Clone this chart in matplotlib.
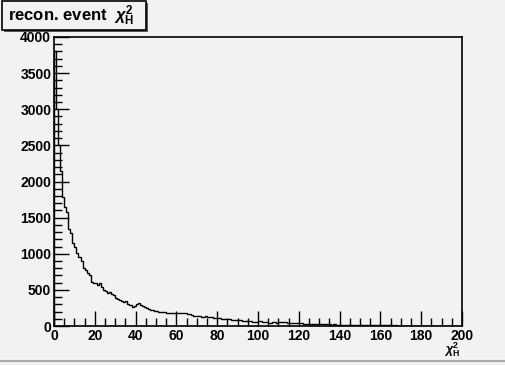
import numpy as np
import matplotlib.pyplot as plt
from matplotlib.patches import Rectangle
from matplotlib.ticker import MultipleLocator

# chi2_H histogram, 1 unit bins from 0 to 200
bin_edges = np.arange(0, 201, 1)
counts = [
    3800, 3000, 2500, 2150, 1780, 1650, 1580, 1340, 1290, 1150,
    1090, 1010, 955, 900, 800, 775, 730, 700, 610, 600,
    595, 567, 590, 540, 500, 490, 457, 465, 440, 430,
    385, 370, 360, 345, 336, 350, 310, 290, 267, 280,
    300, 318, 290, 275, 267, 250, 240, 221, 225, 210,
    205, 200, 198, 190, 195, 185, 180, 183, 175, 180,
    185, 178, 182, 175, 180, 170, 160, 150, 145, 140,
    138, 142, 130, 128, 135, 125, 120, 118, 112, 110,
    108, 110, 100, 98, 95, 92, 90, 86, 85, 83,
    80, 78, 75, 72, 70, 68, 65, 62, 60, 58,
    73, 65, 55, 58, 50, 48, 46, 50, 55, 48,
    62, 60, 52, 55, 45, 42, 40, 38, 40, 36,
    37, 35, 32, 30, 30, 29, 28, 30, 26, 25,
    27, 24, 25, 26, 25, 22, 20, 22, 19, 18,
    20, 17, 16, 18, 15, 14, 16, 15, 14, 14,
    13, 12, 14, 11, 12, 10, 11, 9, 10, 9,
    8, 9, 8, 7, 8, 7, 6, 7, 6, 5,
    6, 5, 5, 4, 5, 4, 4, 3, 4, 3,
    3, 3, 2, 3, 2, 2, 3, 2, 2, 1,
    2, 1, 2, 1, 1, 1, 1, 1, 1, 1,
]
title = "recon. event  $\\chi^{2}_{\\mathbf{H}}$"
xlabel = "$\\chi^{2}_{\\mathbf{H}}$"

BG = "#f2f2f2"
plt.rcParams["font.family"] = ["Liberation Sans", "DejaVu Sans"]
plt.rcParams["mathtext.fontset"] = "custom"
plt.rcParams["mathtext.rm"] = "Liberation Sans:bold"
plt.rcParams["mathtext.it"] = "Liberation Sans:italic:bold"
plt.rcParams["mathtext.bf"] = "Liberation Sans:bold"

fig = plt.figure(figsize=(5.05, 3.65), dpi=100, facecolor=BG)
ax = fig.add_axes([54 / 505, 39 / 365, 408 / 505, 289 / 365])
ax.set_facecolor(BG)

ax.stairs(counts, bin_edges, color="black", linewidth=1.0)

ax.set_xlim(0, 200)
ax.set_ylim(0, 4000)
ax.xaxis.set_major_locator(MultipleLocator(20))
ax.xaxis.set_minor_locator(MultipleLocator(5))
ax.yaxis.set_major_locator(MultipleLocator(500))
ax.yaxis.set_minor_locator(MultipleLocator(100))
ax.tick_params(which="both", direction="in", top=False, right=False,
               labelsize=10, width=1)
ax.tick_params(which="major", length=11, pad=2)
ax.tick_params(which="minor", length=6)
for lab in ax.get_xticklabels() + ax.get_yticklabels():
    lab.set_fontweight("bold")
for s in ax.spines.values():
    s.set_linewidth(1.2)

# title box with shadow like ROOT
fig.patches.append(Rectangle((4 / 505, 1 - 32 / 365), 144 / 505, 29 / 365,
                             transform=fig.transFigure, facecolor="#555555",
                             edgecolor="none"))
fig.patches.append(Rectangle((2 / 505, 1 - 30 / 365), 144 / 505, 29 / 365,
                             transform=fig.transFigure, facecolor=BG,
                             edgecolor="black", linewidth=1.2))
fig.text(8 / 505, 1 - 16 / 365, title, fontsize=12, fontweight="bold",
         va="center", ha="left")

fig.text(452 / 505, 1 - 350 / 365, xlabel, fontsize=9, ha="center", va="center")

# canvas border
fig.add_artist(plt.Line2D([0, 1], [1 - 361 / 365, 1 - 361 / 365],
                          transform=fig.transFigure, color="#aaaaaa", linewidth=1.5))

fig.savefig("out.png", dpi=100, facecolor=BG)
